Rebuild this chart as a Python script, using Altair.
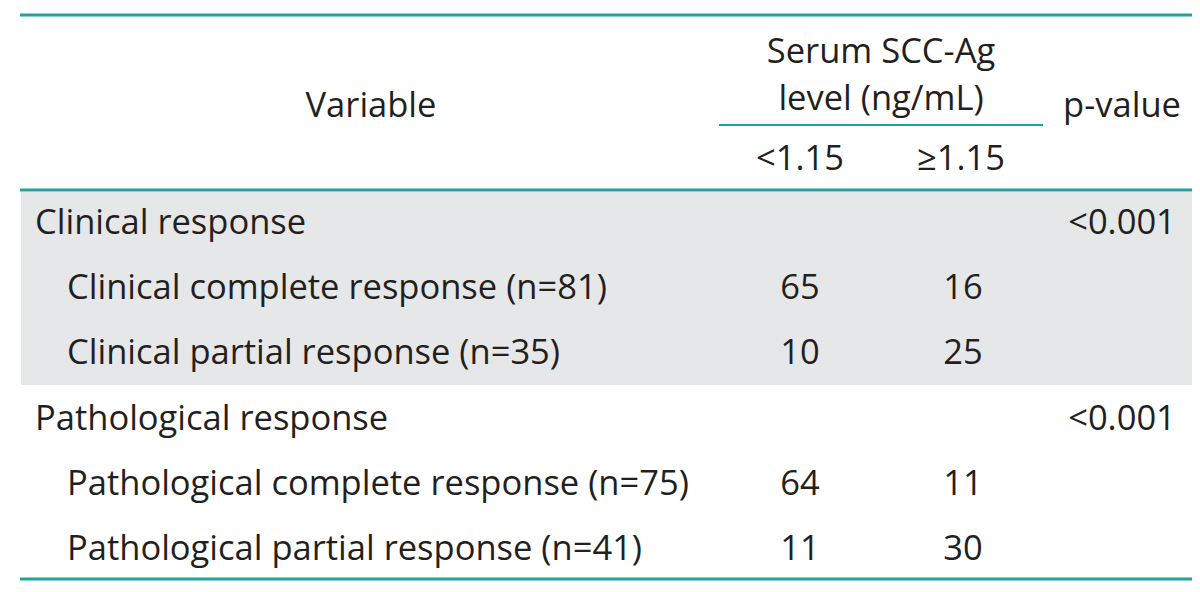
import altair as alt
import pandas as pd

# ---- table content ----
variables = [
    "Clinical response",
    "Clinical complete response (n=81)",
    "Clinical partial response (n=35)",
    "Pathological response",
    "Pathological complete response (n=75)",
    "Pathological partial response (n=41)",
]
is_sub = [False, True, True, False, True, True]
low_vals = ["", "65", "10", "", "64", "11"]
high_vals = ["", "16", "25", "", "11", "30"]
p_vals = ["<0.001", "", "", "<0.001", "", ""]
shaded = [True, True, True, False, False, False]

header_top = ["Serum SCC-Ag", "level (ng/mL)"]
header_var = "Variable"
header_p = "p-value"
sub_headers = ["<1.15", "\u22651.15"]

# ---- layout (page pixels) ----
FONT = "Open Sans"
FS = 34.5
TXT = "#231f20"
TEAL = "#1fa39a"
GRAY = "#e6e7e8"
W, H = 1184, 576
X0, X1 = 20, 8 + W
ROW0, ROWH = 234, 65.2
COL_LOW, COL_HIGH, COL_P = 800, 963, 1122
X_GROUP, X_SUB = 35, 67

xs = alt.Scale(domain=[8, 8 + W], nice=False, zero=False)
ys = alt.Scale(domain=[8, 8 + H], nice=False, zero=False, reverse=True)

rows = []
for i, v in enumerate(variables):
    y = ROW0 + ROWH * i
    rows.append(dict(x=X_SUB if is_sub[i] else X_GROUP, y=y, t=v, a="left"))
    if low_vals[i]:
        rows.append(dict(x=COL_LOW, y=y, t=low_vals[i], a="center"))
    if high_vals[i]:
        rows.append(dict(x=COL_HIGH, y=y, t=high_vals[i], a="center"))
    if p_vals[i]:
        rows.append(dict(x=COL_P, y=y, t=p_vals[i], a="center"))

rows.append(dict(x=371, y=117, t=header_var, a="center"))
rows.append(dict(x=881, y=63, t=header_top[0], a="center"))
rows.append(dict(x=881, y=110, t=header_top[1], a="center"))
rows.append(dict(x=1122, y=117, t=header_p, a="center"))
rows.append(dict(x=COL_LOW, y=170, t=sub_headers[0], a="center"))
rows.append(dict(x=COL_HIGH - 2, y=170, t=sub_headers[1], a="center"))
tdf = pd.DataFrame(rows)

# shaded band covering the clinical rows
shade_idx = [i for i, s in enumerate(shaded) if s]
band = pd.DataFrame([dict(x=X0 + 1, x2=X1, y=192, y2=ROW0 + ROWH * shade_idx[-1] + 20.5)])

lines = pd.DataFrame([
    dict(x=X0, x2=X1, y=15, w=3),
    dict(x=719, x2=1043, y=125, w=2.2),
    dict(x=X0, x2=X1, y=190, w=3),
    dict(x=X0, x2=X1, y=579, w=3),
])

rect = alt.Chart(band).mark_rect(color=GRAY).encode(
    x=alt.X("x:Q", scale=xs, axis=None),
    x2="x2:Q",
    y=alt.Y("y:Q", scale=ys, axis=None),
    y2="y2:Q",
)

rules = alt.Chart(lines).mark_rule(color=TEAL).encode(
    x=alt.X("x:Q", scale=xs, axis=None),
    x2="x2:Q",
    y=alt.Y("y:Q", scale=ys, axis=None),
    strokeWidth=alt.StrokeWidth("w:Q", scale=None, legend=None),
)

def text_layer(align):
    return alt.Chart(tdf[tdf.a == align]).mark_text(
        font=FONT, fontSize=FS, color=TXT, align=align, baseline="alphabetic"
    ).encode(
        x=alt.X("x:Q", scale=xs, axis=None),
        y=alt.Y("y:Q", scale=ys, axis=None),
        text="t:N",
    )

chart = alt.layer(rect, rules, text_layer("left"), text_layer("center")).properties(
    width=W, height=H, padding=0, background="white",
    autosize=alt.AutoSizeParams(type="none"),
).configure_view(stroke=None)

chart.save("out.html", embed_options={"renderer": "svg", "actions": False})
